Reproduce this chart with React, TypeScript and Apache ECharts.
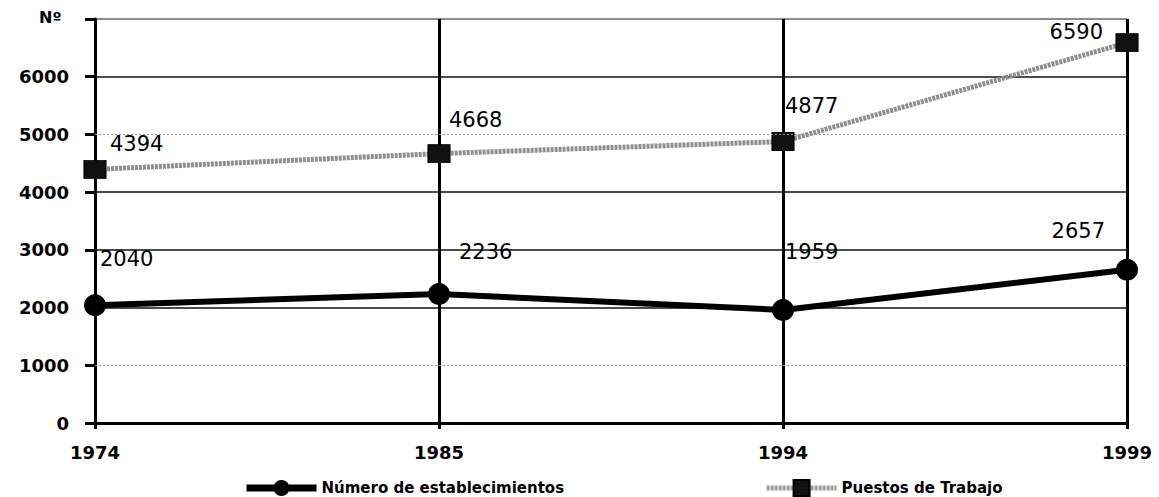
import React, { useEffect, useRef } from "react";
import * as echarts from "echarts";

const years = ["1974", "1985", "1994", "1999"];
const establecimientos = [2040, 2236, 1959, 2657];
const puestos = [4394, 4668, 4877, 6590];
const yTicks = [0, 1000, 2000, 3000, 4000, 5000, 6000, 7000];
const seriesNames = ["Número de establecimientos", "Puestos de Trabajo"];

// label placement (style only)
const estLabelPos = [
  { align: "left", dx: 5, dy: -35 },
  { align: "left", dx: 20, dy: -31 },
  { align: "left", dx: 2, dy: -47 },
  { align: "right", dx: -22, dy: -28 },
];
const puestosLabelPos = [
  { align: "left", dx: 15, dy: -16 },
  { align: "left", dx: 10, dy: -24 },
  { align: "left", dx: 2, dy: -26 },
  { align: "right", dx: -24, dy: -1 },
];

const FONT = "'DejaVu Sans', 'Liberation Sans', Arial, sans-serif";

export default function App() {
  const ref = useRef<HTMLDivElement>(null);
  useEffect(() => {
    const chart = echarts.init(ref.current!, null, { renderer: "svg" });
    const mk = (vals: number[], pos: any[]) =>
      vals.map((v, i) => ({
        value: v,
        label: {
          align: pos[i].align,
          offset: [pos[i].dx, pos[i].dy],
        },
      }));
    const gridColors = yTicks.map((t) =>
      t === 1000 || t === 5000 ? "rgba(0,0,0,0)" : t === 7000 ? "#666" : "#111"
    );
    chart.setOption({
      animation: false,
      backgroundColor: "#fff",
      grid: { left: 95, right: 32, top: 19, bottom: 74 },
      xAxis: {
        type: "category",
        data: years,
        boundaryGap: false,
        axisLine: { lineStyle: { color: "#000", width: 3 } },
        axisTick: { show: true, length: 6, lineStyle: { color: "#000", width: 3 } },
        axisLabel: {
          margin: 20,
          color: "#000",
          fontFamily: FONT,
          fontWeight: "bold",
          fontSize: 18,
        },
        splitLine: { show: true, lineStyle: { color: "#000", width: 3 } },
      },
      yAxis: {
        type: "value",
        min: 0,
        max: 7000,
        interval: 1000,
        axisLine: { show: true, lineStyle: { color: "#000", width: 3 } },
        axisTick: { show: true, length: 10, lineStyle: { color: "#000", width: 3 } },
        axisLabel: {
          margin: 26,
          color: "#000",
          fontFamily: FONT,
          fontWeight: "bold",
          fontSize: 18,
          formatter: (v: number) => (v === 7000 ? "" : String(v)),
        },
        splitLine: { show: true, lineStyle: { color: gridColors, width: 1.5 } },
      },
      legend: {
        left: 238,
        top: 474,
        itemGap: 200,
        itemWidth: 70,
        itemHeight: 20,
        textStyle: {
          color: "#000",
          fontFamily: FONT,
          fontWeight: "bold",
          fontSize: 15,
        },
        data: [
          { name: seriesNames[0], lineStyle: { width: 7, color: "#000" } },
          { name: seriesNames[1], lineStyle: { width: 5, color: "#9a9a9a" } },
        ],
      },
      graphic: [
        {
          type: "text",
          left: 39,
          top: 9,
          style: {
            text: "Nº",
            fill: "#000",
            font: `bold 16px ${FONT}`,
          },
        },
      ],
      series: [
        {
          name: seriesNames[0],
          type: "line",
          data: mk(establecimientos, estLabelPos),
          symbol: "circle",
          symbolSize: 22,
          z: 5,
          itemStyle: { color: "#000" },
          lineStyle: { color: "#000", width: 6 },
          label: {
            show: true,
            position: "top",
            distance: 0,
            verticalAlign: "middle",
            color: "#000",
            fontFamily: FONT,
            fontSize: 21,
          },
          markLine: {
            silent: true,
            symbol: "none",
            label: { show: false },
            lineStyle: { color: "#999", width: 1, type: [2, 2] },
            data: [{ yAxis: 1000 }, { yAxis: 5000 }],
          },
        },
        {
          name: seriesNames[1],
          type: "line",
          data: mk(puestos, puestosLabelPos),
          symbol: "rect",
          symbolSize: [22, 18],
          z: 4,
          itemStyle: { color: "#111", borderColor: "#000", borderWidth: 1 },
          lineStyle: { color: "#8e8e8e", width: 5, type: [3, 1] },
          label: {
            show: true,
            position: "top",
            distance: 0,
            verticalAlign: "middle",
            color: "#000",
            fontFamily: FONT,
            fontSize: 21,
          },
        },
      ],
    });
    return () => chart.dispose();
  }, []);
  return <div ref={ref} style={{ width: 1159, height: 497, position: "absolute", left: 0, top: 0 }} />;
}
